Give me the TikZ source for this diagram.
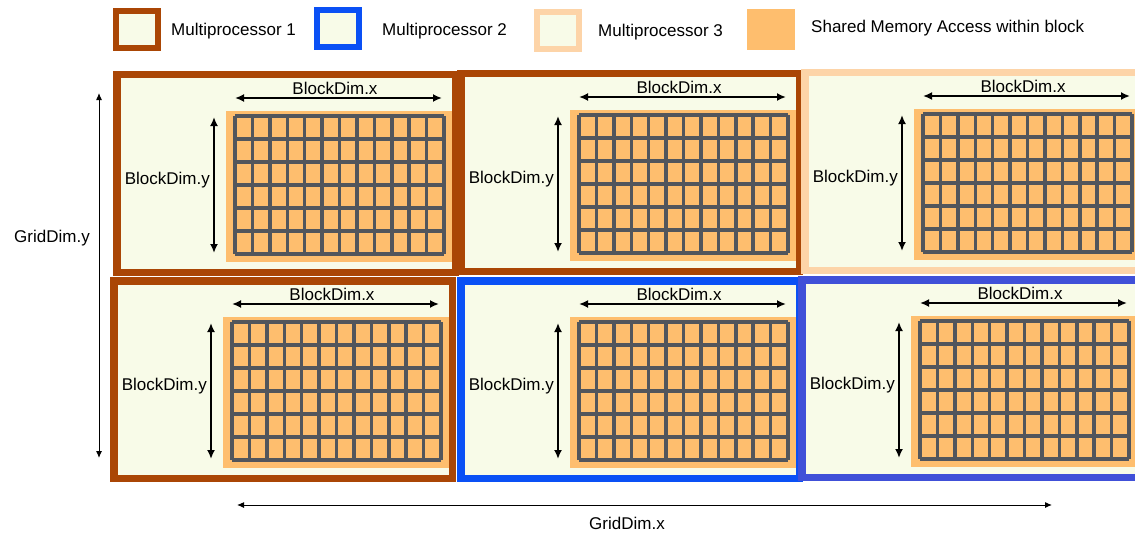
\documentclass[tikz,border=0pt]{standalone}
\usepackage{fontspec}
\setmainfont{Liberation Sans}
\usetikzlibrary{arrows.meta}

\definecolor{mpone}{RGB}{170,70,5}
\definecolor{mptwo}{RGB}{10,80,245}
\definecolor{mpthree}{RGB}{253,212,168}
\definecolor{mpfour}{RGB}{64,80,216}
\definecolor{cream}{RGB}{248,251,232}
\definecolor{shorange}{RGB}{254,190,110}
\definecolor{threadgray}{RGB}{82,86,92}

\tikzset{
  lbl/.style={font=\fontsize{17}{20}\selectfont,inner sep=0pt},
  legbox/.style={fill=cream,line width=6pt,minimum width=42pt,minimum height=37pt,inner sep=0pt},
  frame/.style={line width=7.5pt},
  shmem/.style={fill=shorange},
  tgrid/.style={draw=threadgray,line width=3.5pt},
  dimarrow/.style={{Latex[length=9pt,width=8pt]}-{Latex[length=9pt,width=8pt]},line width=1.8pt},
  gridarrow/.style={{Latex[length=7pt,width=6pt]}-{Latex[length=7pt,width=6pt]},line width=1pt}
}

% one thread block: #1,#2 = top-left corner, #3 = multiprocessor colour, #4 = name
\newcommand{\threadblock}[4]{%
  \begin{scope}[shift={(#1,#2)}]
    \fill[cream] (7,7) rectangle (339,198);
    % shared memory and the threads on it
    \fill[shmem] (113,40) rectangle (339,191);
    \foreach \i in {0,...,12}
      \draw[tgrid] ({122+\i*209/12},45) -- ++(0,138);
    \foreach \j in {0,...,6}
      \draw[tgrid] (122,{45+\j*23}) -- ++(209,0);
    \draw[frame,draw=#3] (3.75,3.75) rectangle (342.25,201.25);
    % block dimensions
    \coordinate (#4-xl) at (122,27);
    \coordinate (#4-xr) at (329,27);
    \coordinate (#4-yt) at (101,46);
    \coordinate (#4-yb) at (101,182);
    \draw[dimarrow] (#4-xl) -- (#4-xr);
    \draw[dimarrow] (#4-yt) -- (#4-yb);
    \node[lbl] (#4-bx) at (222,17) {BlockDim.x};
    \node[lbl,anchor=east] (#4-by) at (97,109) {BlockDim.y};
  \end{scope}
}

\begin{document}
\begin{tikzpicture}[x=1pt,y=-1pt]
  \useasboundingbox (0,0) rectangle (1135,535);
  \clip (0,0) rectangle (1135,535);

  % Legend
  \node[legbox,draw=mpone] (leg1) at (137,29.5) {};
  \node[lbl,anchor=west] (leg1txt) at (171,31) {Multiprocessor 1};
  \node[legbox,draw=mptwo] (leg2) at (337.5,29) {};
  \node[lbl,anchor=west] (leg2txt) at (382,31) {Multiprocessor 2};
  \node[legbox,draw=mpthree] (leg3) at (557.5,31) {};
  \node[lbl,anchor=west] (leg3txt) at (598,32) {Multiprocessor 3};
  \node[shmem,minimum width=48pt,minimum height=41pt,inner sep=0pt] (leg4) at (771,29.5) {};
  \node[lbl,anchor=west] (leg4txt) at (811,28) {Shared Memory Access within block};

  % Grid of blocks
  \threadblock{113}{71}{mpone}{b00}
  \threadblock{457}{70}{mpone}{b01}
  \threadblock{801}{69}{mpthree}{b02}
  \threadblock{110}{277}{mpone}{b10}
  \threadblock{457}{277}{mptwo}{b11}
  \threadblock{798}{276}{mpfour}{b12}

  % Grid dimensions
  \coordinate (gyt) at (99,93);
  \coordinate (gyb) at (99,458);
  \coordinate (gxl) at (237,505);
  \coordinate (gxr) at (1052,505);
  \draw[gridarrow] (gyt) -- (gyb);
  \draw[gridarrow] (gxl) -- (gxr);
  \node[lbl] (gdy) at (52,238) {GridDim.y};
  \node[lbl] (gdx) at (627,523) {GridDim.x};
\end{tikzpicture}
\end{document}
